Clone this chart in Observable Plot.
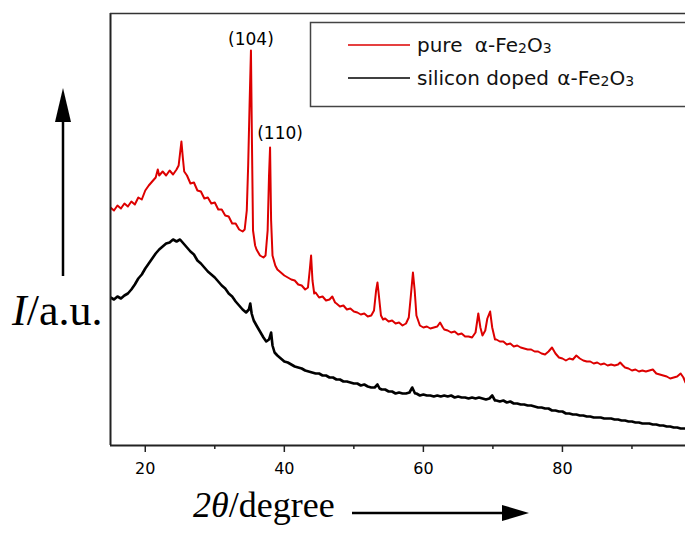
<!DOCTYPE html>
<html><head><meta charset="utf-8">
<script src="https://cdn.jsdelivr.net/npm/d3@7"></script>
<script src="https://cdn.jsdelivr.net/npm/@observablehq/plot@0.6"></script>
<style>body{margin:0;background:#fff;} #chart svg{display:block;}</style>
</head><body><div id="chart"></div>
<script>
// 2θ (degree), intensity (a.u.)
const pure = [
[15.0,238],[15.5,235],[16.0,240],[16.5,237],[17.0,242],[17.5,239],[18.0,244],[18.5,241],[19.0,248],[19.5,246],
[20.0,255],[20.5,260],[21.0,264],[21.5,268],[21.8,276],[22.0,270],[22.5,274],[23.0,270],[23.5,275],[24.0,271],
[24.5,276],[24.8,280],[25.0,292],[25.2,304],[25.4,288],[25.6,274],[26.0,270],[26.5,262],[27.0,263],[27.5,255],
[28.0,254],[28.5,247],[29.0,248],[29.5,242],[30.0,243],[30.5,236],[31.0,236],[31.5,230],[32.0,229],[32.5,222],
[33.0,222],[33.5,216],[34.0,214],[34.3,216],[34.6,235],[34.8,280],[35.0,340],[35.2,395],[35.35,300],[35.5,215],
[35.8,200],[36.0,196],[36.5,190],[37.0,188],[37.3,190],[37.6,215],[37.8,270],[37.95,298],[38.1,225],[38.3,190],
[38.7,180],[39.0,176],[39.5,173],[40.0,170],[40.5,168],[41.0,166],[41.5,165],[42.0,161],[42.5,160],[43.0,156],
[43.4,158],[43.65,175],[43.85,190],[44.05,165],[44.3,152],[44.5,153],[45.0,148],[45.5,149],[46.0,145],[46.5,146],
[46.9,149],[47.3,143],[47.5,142],[48.0,139],[48.5,140],[49.0,136],[49.5,137],[50.0,134],[50.5,133],[51.0,131],
[51.5,132],[52.0,129],[52.5,130],[52.9,135],[53.2,155],[53.4,163],[53.6,150],[53.9,130],[54.2,126],[54.5,127],
[55.0,124],[55.5,125],[56.0,122],[56.5,123],[57.0,120],[57.5,122],[57.9,128],[58.2,150],[58.5,173],[58.75,155],
[59.0,130],[59.5,120],[60.0,118],[60.5,119],[61.0,117],[61.5,118],[62.0,119],[62.4,123],[62.8,118],[63.0,116],
[63.5,115],[64.0,113],[64.5,114],[65.0,111],[65.5,112],[66.0,109],[66.5,109],[67.0,108],[67.5,113],[67.9,132],
[68.2,118],[68.5,110],[68.9,115],[69.2,127],[69.6,134],[69.9,118],[70.3,106],[70.5,106],[71.0,104],[71.5,104],
[72.0,101],[72.5,102],[73.0,99],[73.5,100],[74.0,98],[74.5,97],[75.0,96],[75.5,96],[76.0,94],[76.5,94],
[77.0,92],[77.5,91],[78.0,94],[78.5,98],[79.0,92],[79.5,88],[80.0,87],[80.5,85],[81.0,87],[81.5,86],
[82.0,90],[82.5,87],[83.0,85],[83.5,84],[84.0,84],[84.5,82],[85.0,83],[85.5,81],[86.0,82],[86.5,80],
[87.0,81],[87.5,80],[88.0,81],[88.3,83],[88.7,80],[89.0,78],[89.5,77],[90.0,75],[90.5,76],[91.0,74],
[91.5,75],[92.0,74],[92.5,75],[93.0,76],[93.5,72],[94.0,71],[94.5,70],[95.0,69],[95.5,67],[96.0,68],
[96.5,69],[97.0,72],[97.4,68],[97.7,63]
];
const doped = [
[15.0,148],[15.5,146],[16.0,149],[16.5,147],[17.0,150],[17.5,152],[18.0,156],[18.5,161],[19.0,167],[19.5,171],
[20.0,177],[20.5,182],[21.0,187],[21.5,192],[22.0,196],[22.5,199],[23.0,202],[23.5,203],[24.0,206],[24.5,204],
[25.0,206],[25.5,202],[26.0,198],[26.5,194],[27.0,191],[27.5,185],[28.0,182],[28.5,178],[29.0,174],[29.5,171],
[30.0,168],[30.5,164],[31.0,160],[31.5,157],[32.0,152],[32.5,149],[33.0,144],[33.5,140],[34.0,136],[34.5,133],
[34.9,136],[35.1,142],[35.3,132],[35.6,125],[36.0,120],[36.5,114],[37.0,108],[37.4,104],[37.8,106],[38.1,113],
[38.3,100],[38.6,93],[39.0,90],[39.5,87],[40.0,84],[40.5,83],[41.0,81],[41.5,79],[42.0,78],[42.5,77],
[43.0,75],[43.5,74],[44.0,73],[44.5,72],[45.0,72],[45.5,70],[46.0,70],[46.5,68],[47.0,68],[47.5,66],
[48.0,66],[48.5,64],[49.0,64],[49.5,63],[50.0,62],[50.5,62],[51.0,60],[51.5,61],[52.0,59],[52.5,58],
[53.0,58],[53.4,61],[53.7,57],[54.0,56],[54.5,56],[55.0,54],[55.5,54],[56.0,52],[56.5,53],[57.0,52],
[57.5,52],[58.0,53],[58.4,58],[58.8,52],[59.0,52],[59.5,50],[60.0,51],[60.5,50],[61.0,50],[61.5,49],
[62.0,50],[62.5,49],[63.0,50],[63.5,49],[64.0,50],[64.5,48],[65.0,49],[65.5,48],[66.0,48],[66.5,47],
[67.0,48],[67.5,47],[68.0,48],[68.5,47],[69.0,46],[69.5,47],[69.9,50],[70.3,45],[70.5,45],[71.0,44],
[71.5,45],[72.0,43],[72.5,44],[73.0,42],[73.5,42],[74.0,41],[74.5,41],[75.0,40],[75.5,40],[76.0,39],
[76.5,38],[77.0,38],[77.5,37],[78.0,37],[78.5,35],[79.0,35],[79.5,34],[80.0,34],[80.5,32],[81.0,32],
[81.5,31],[82.0,31],[82.5,30],[83.0,30],[83.5,29],[84.0,29],[84.5,28],[85.0,28],[85.5,28],[86.0,27],
[86.5,27],[87.0,27],[87.5,26],[88.0,26],[88.5,25],[89.0,25],[89.5,24],[90.0,24],[90.5,23],[91.0,23],
[91.5,22],[92.0,22],[92.5,22],[93.0,21],[93.5,21],[94.0,20],[94.5,20],[95.0,19],[95.5,19],[96.0,18],
[96.5,18],[97.0,17],[97.7,17]
];
const seriesNames = ["pure", "silicon doped"];
const seriesColors = ["#dd0000", "#000000"];
const peakLabels = ["(104)", "(110)"];
const peakTheta = [35.2, 37.95];
const peakI = [395, 298];
const xTicks = [20, 40, 60, 80];
const xMinorTicks = [30, 50, 70, 90];
const xDomain = [15, 97.7];
const yDomain = [0, 432];

const plot = Plot.plot({
  width: 685, height: 535,
  marginLeft: 110, marginRight: 0, marginTop: 13, marginBottom: 90,
  x: {domain: xDomain},
  y: {domain: yDomain, axis: null},
  style: {fontFamily: "'DejaVu Sans', sans-serif", fontSize: "16px", background: "#fff", color: "#000", overflow: "hidden"},
  marks: [
    Plot.line(pure, {x: d => d[0], y: d => d[1], stroke: seriesColors[0], strokeWidth: 2, clip: true}),
    Plot.line(doped, {x: d => d[0], y: d => d[1], stroke: seriesColors[1], strokeWidth: 2.6, clip: true}),
    Plot.axisX(xTicks, {tickSize: 7, tickPadding: 10, strokeWidth: 1.5, stroke: "#222", fontSize: 16, label: null}),
    Plot.axisX(xMinorTicks, {tickSize: 4, strokeWidth: 1.5, stroke: "#222", text: null, label: null}),
    Plot.ruleX([xDomain[0]], {stroke: "#222", strokeWidth: 2}),
    Plot.ruleY([yDomain[0]], {stroke: "#222", strokeWidth: 2}),
    Plot.ruleY([yDomain[1]], {stroke: "#333", strokeWidth: 1.5}),
    Plot.text(peakLabels, {x: peakTheta, y: peakI, text: d => d, filter: (d, i) => i === 0, dy: -6, lineAnchor: "bottom", fontSize: 17}),
    Plot.text(peakLabels, {x: peakTheta, y: peakI, text: d => d, filter: (d, i) => i === 1, dy: -9, dx: 10, lineAnchor: "bottom", fontSize: 17})
  ]
});
document.getElementById("chart").appendChild(plot);

const svg = d3.select(plot);
const serif = "'Liberation Serif', 'Times New Roman', serif";
// Legend
const lg = svg.append("g").attr("font-family", "'DejaVu Sans', sans-serif").attr("font-size", 20).attr("text-anchor", "start");
lg.append("rect").attr("x", 310.5).attr("y", 22.5).attr("width", 420).attr("height", 84)
  .attr("fill", "#fff").attr("stroke", "#444").attr("stroke-width", 1.5);
seriesNames.forEach((name, i) => {
  const cy = 45 + i * 33;
  lg.append("line").attr("x1", 348).attr("x2", 410).attr("y1", cy).attr("y2", cy)
    .attr("stroke", seriesColors[i]).attr("stroke-width", 1.3);
  const t = lg.append("text").attr("x", 417).attr("y", cy + 7).attr("fill", "#111").attr("text-anchor", "start");
  t.append("tspan").text(name + " ");
  t.append("tspan").attr("dx", i === 0 ? 6 : 2).text("α-Fe");
  t.append("tspan").attr("font-size", 14).attr("dy", 1).text("2");
  t.append("tspan").attr("dy", -1).text("O");
  t.append("tspan").attr("font-size", 14).attr("dy", 1).text("3");
});
// Y label and arrow
const yl = svg.append("text").attr("x", 12).attr("y", 325).attr("font-family", serif).attr("font-size", 44).attr("fill", "#000").attr("text-anchor", "start");
yl.append("tspan").attr("font-style", "italic").text("I");
yl.append("tspan").text("/a.u.");
svg.append("line").attr("x1", 63).attr("x2", 63).attr("y1", 276).attr("y2", 115).attr("stroke", "#000").attr("stroke-width", 2.5);
svg.append("polygon").attr("points", "63,88 55,122 71,122").attr("fill", "#000");
// X label and arrow
const xl = svg.append("text").attr("x", 193).attr("y", 517).attr("font-family", serif).attr("font-size", 36).attr("fill", "#000").attr("text-anchor", "start");
xl.append("tspan").attr("font-style", "italic").text("2θ");
xl.append("tspan").text("/degree");
svg.append("line").attr("x1", 352).attr("x2", 506).attr("y1", 513).attr("y2", 513).attr("stroke", "#000").attr("stroke-width", 2.5);
svg.append("polygon").attr("points", "529,513 502,505 502,521").attr("fill", "#000");
</script>
</body></html>
